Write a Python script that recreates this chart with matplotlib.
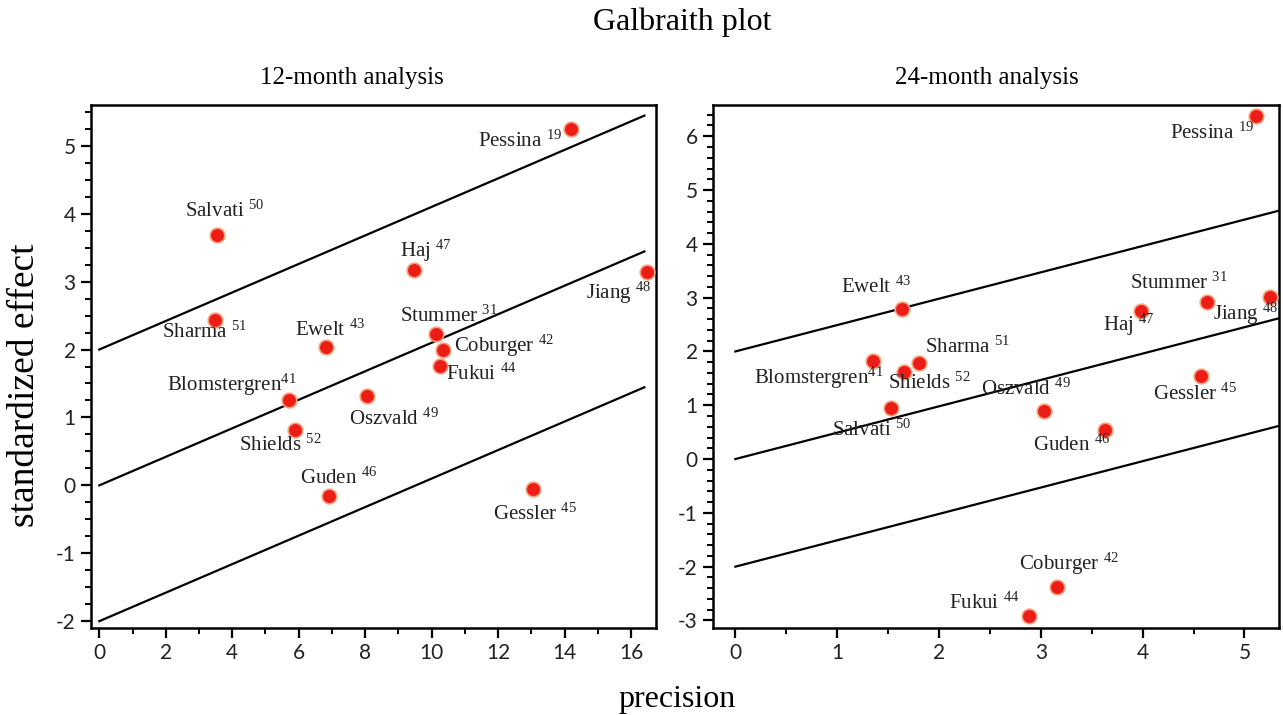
import numpy as np
import matplotlib
matplotlib.use("Agg")
import matplotlib.pyplot as plt
from matplotlib.ticker import MultipleLocator

plt.rcParams['mathtext.fontset'] = 'custom'
plt.rcParams['mathtext.rm'] = 'Liberation Serif'
plt.rcParams['mathtext.it'] = 'Liberation Serif:italic'
plt.rcParams['axes.unicode_minus'] = False

# studies and reference numbers
studies = ["Pessina", "Salvati", "Sharma", "Haj", "Jiang", "Stummer", "Coburger",
           "Fukui", "Ewelt", "Blomstergren", "Oszvald", "Shields", "Guden", "Gessler"]
refs = [19, 50, 51, 47, 48, 31, 42, 44, 43, 41, 49, 52, 46, 45]

# 12-month analysis
prec12 = [14.19, 3.54, 3.49, 9.48, 16.47, 10.14, 10.34, 10.26, 6.83, 5.70, 8.05, 5.90, 6.91, 13.04]
eff12 = [5.25, 3.68, 2.43, 3.17, 3.14, 2.23, 2.00, 1.76, 2.04, 1.25, 1.31, 0.81, -0.15, -0.05]
slope12 = 0.21
xend12 = 16.4

# 24-month analysis
prec24 = [5.11, 1.53, 1.80, 3.98, 5.25, 4.63, 3.16, 2.88, 1.64, 1.35, 3.03, 1.66, 3.63, 4.57]
eff24 = [6.37, 0.94, 1.78, 2.75, 3.02, 2.91, -2.37, -2.91, 2.78, 1.82, 0.90, 1.61, 0.54, 1.55]
slope24 = 0.49
xend24 = 5.4

# label placement (pixel offset from dot: dx, dy downwards, alignment)
off12 = {
    "Pessina": (-9, 12, "right"), "Salvati": (8, -24, "center"), "Sharma": (-11, 12, "center"),
    "Haj": (11, -19, "center"), "Jiang": (5, 21, "right"), "Stummer": (13, -18, "center"),
    "Coburger": (11, -4, "left"), "Fukui": (6, 8, "left"), "Ewelt": (4, -17, "center"),
    "Blomstergren": (8, -16, "right"), "Oszvald": (27, 23, "center"), "Shields": (-15, 15, "center"),
    "Guden": (10, -17, "center"), "Gessler": (2, 25, "center"),
}
off24 = {
    "Pessina": (-2, 17, "right"), "Ewelt": (-26, -22, "center"), "Stummer": (-28, -19, "center"),
    "Jiang": (9, 17, "right"), "Haj": (-12, 14, "center"), "Sharma": (6, -16, "left"),
    "Blomstergren": (11, 17, "right"), "Shields": (25, 11, "center"), "Oszvald": (-18, -21, "center"),
    "Gessler": (-6, 19, "center"), "Salvati": (-19, 22, "center"), "Guden": (-33, 15, "center"),
    "Coburger": (12, -23, "center"), "Fukui": (-44, -12, "center"),
}

serif = "Liberation Serif"
tickfont = "Lato"


def label(name, ref):
    sep = "" if name == "Blomstergren" else " "
    return name + sep + r"$^{\mathrm{" + str(ref) + "}}$"


def panel(ax, x, y, slope, xend, offs):
    xs = np.array([0, xend])
    for c in (2, 0, -2):
        ax.plot(xs, c + slope * xs, color="black", lw=1.6, zorder=2)
    ax.scatter(x, y, s=110, color="#ec1d17", edgecolors="#f6a07c", linewidths=1.2, zorder=3)
    for name, ref, xi, yi in zip(studies, refs, x, y):
        dx, dy, ha = offs[name]
        ax.annotate(label(name, ref), (xi, yi), xytext=(dx, -dy), textcoords="offset pixels",
                    ha=ha, va="center", fontsize=15, family=serif, color="#222222", zorder=4)
    for s in ax.spines.values():
        s.set_linewidth(1.8)
    ax.tick_params(which="major", direction="out", length=7, width=1.6, labelsize=15, pad=4)
    ax.tick_params(which="minor", direction="out", length=4, width=1.4)
    for t in ax.get_xticklabels() + ax.get_yticklabels():
        t.set_family(tickfont)
        t.set_color("#222222")


fig = plt.figure(figsize=(12.83, 7.15), dpi=100)
ax1 = fig.add_axes([0.0709, 0.1217, 0.4404, 0.7314])
ax2 = fig.add_axes([0.5557, 0.1217, 0.4412, 0.7314])

ax1.set_xlim(-0.25, 16.75)
ax1.set_ylim(-2.1, 5.6)
ax1.xaxis.set_major_locator(MultipleLocator(2))
ax1.xaxis.set_minor_locator(MultipleLocator(1))
ax1.yaxis.set_major_locator(MultipleLocator(1))
ax1.yaxis.set_minor_locator(MultipleLocator(0.25))

ax2.set_xlim(-0.22, 5.34)
ax2.set_ylim(-3.14, 6.58)
ax2.xaxis.set_major_locator(MultipleLocator(1))
ax2.xaxis.set_minor_locator(MultipleLocator(0.5))
ax2.yaxis.set_major_locator(MultipleLocator(1))
ax2.yaxis.set_minor_locator(MultipleLocator(0.2))

panel(ax1, prec12, eff12, slope12, xend12, off12)
panel(ax2, prec24, eff24, slope24, xend24, off24)

fig.text(0.274, 0.891, "12-month analysis", ha="center", va="center", fontsize=18, family=serif)
fig.text(0.769, 0.891, "24-month analysis", ha="center", va="center", fontsize=18, family=serif)
fig.text(0.532, 0.969, "Galbraith plot", ha="center", va="center", fontsize=23, family=serif)
fig.text(0.528, 0.021, "precision", ha="center", va="center", fontsize=23, family=serif)
fig.text(0.0195, 0.4615, "standardized effect", ha="center", va="center", rotation=90,
         fontsize=27, family=serif)

fig.savefig("out.png", dpi=100)
